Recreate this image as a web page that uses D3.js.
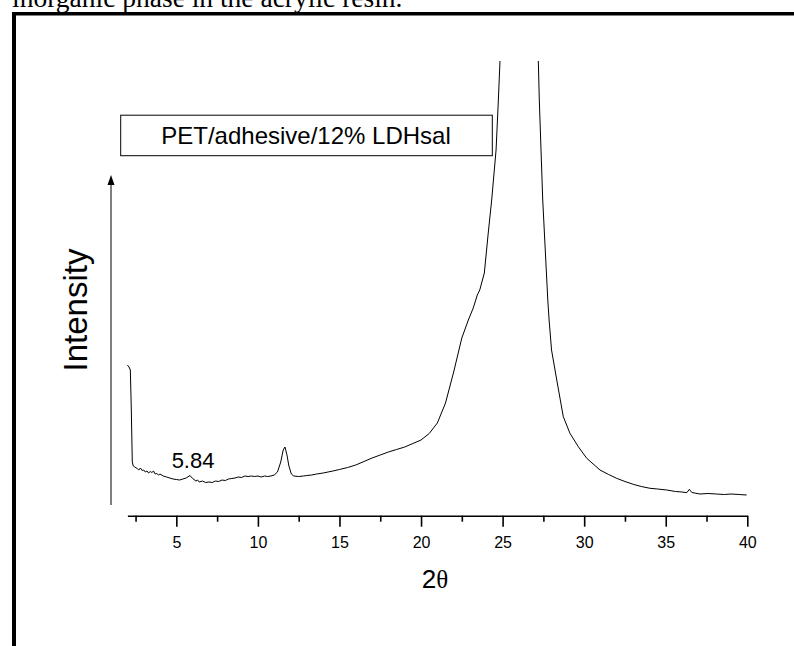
<!DOCTYPE html>
<html>
<head>
<meta charset="utf-8">
<script src="https://cdn.jsdelivr.net/npm/d3@7"></script>
<style>
  html, body { margin: 0; padding: 0; background: #fff; }
  svg { display: block; }
</style>
</head>
<body>
<svg id="chart" width="794" height="646"></svg>
<script>
// ---- data (2θ in degrees, intensity in arbitrary counts) ----
const twoTheta = [
  2.00, 2.10, 2.18, 2.24, 2.30, 2.36, 2.45, 2.6, 2.7, 2.8, 2.9, 3.0, 3.1, 3.2, 3.3, 3.4, 3.5, 3.6, 3.7, 3.8,
  3.9, 4.0, 4.2, 4.4, 4.6, 4.8, 5.0, 5.2, 5.4, 5.6, 5.84, 6.0, 6.2, 6.3, 6.4, 6.6, 6.8, 7.0, 7.2, 7.4,
  7.6, 7.8, 8.0, 8.2, 8.4, 8.6, 8.8, 9.0, 9.2, 9.4, 9.6, 9.8, 10.0, 10.2, 10.4, 10.6, 10.8, 11.0, 11.2, 11.4,
  11.55, 11.66, 11.78, 11.9, 12.05, 12.2, 12.5, 12.8, 13.0, 13.3, 13.6, 14.0, 14.3, 14.6, 15.0, 15.5, 16.0, 16.5, 17.0, 17.5,
  18.0, 18.5, 19.0, 19.5, 20.0, 20.5, 21.0, 21.5, 22.0, 22.5, 22.9, 23.2, 23.45, 23.6, 23.88, 24.12, 24.33, 24.6, 24.74, 24.84,
  25.2, 25.6, 26.0, 26.5, 27.0, 27.19, 27.25, 27.46, 27.77, 27.85, 28.0, 28.32, 28.72, 29.13, 29.64, 30.16, 30.97, 31.5, 31.99, 32.5,
  33.01, 33.5, 34.04, 34.5, 35.06, 35.6, 36.0, 36.29, 36.45, 36.6, 37.1, 37.6, 38.1, 38.6, 39.0, 39.5, 39.96
];
const intensity = [
  1400, 1380, 1350, 950, 430, 390, 380, 365, 350, 370, 345, 350, 330, 340, 320, 335, 325, 340, 310, 315,
  300, 310, 290, 280, 270, 260, 255, 250, 260, 270, 295, 265, 240, 250, 230, 240, 225, 230, 225, 240,
  235, 250, 245, 260, 265, 270, 280, 275, 290, 285, 290, 285, 290, 280, 290, 285, 290, 300, 330, 430,
  550, 580, 500, 390, 310, 290, 285, 290, 295, 300, 310, 320, 330, 340, 355, 375, 400, 435, 470, 500,
  530, 555, 580, 615, 650, 715, 820, 1020, 1330, 1670, 1850, 1970, 2100, 2150, 2320, 2720, 3050, 3550, 4050, 4440,
  6500, 8000, 8500, 7500, 5200, 4440, 4050, 3050, 2050, 1850, 1550, 1250, 883, 717, 583, 467, 350, 305, 267, 235,
  207, 185, 167, 160, 150, 135, 130, 123, 157, 125, 110, 115, 110, 105, 110, 105, 100
];
const majorTicks = [5, 10, 15, 20, 25, 30, 35, 40];
const minorTicks = [2.5, 7.5, 12.5, 17.5, 22.5, 27.5, 32.5, 37.5];
const legendText = "PET/adhesive/12% LDHsal";
const peakLabel = { x: 5.84, text: "5.84" };
const xTitle = "2";
const xTitleGreek = "θ";
const yTitle = "Intensity";
const captionText = "inorganic phase in the acrylic resin.";

// ---- layout ----
const svg = d3.select("#chart");
const x = d3.scaleLinear().domain([2, 40]).range([127.4, 747.3]);
const y = d3.scaleLinear().domain([0, 4440]).range([505, 61]);
const axisY = 515.7;

// page frame + caption fragment
svg.append("text")
  .attr("x", 12).attr("y", 7)
  .attr("font-family", "'Liberation Serif', 'Times New Roman', serif")
  .attr("font-size", 27.5)
  .attr("fill", "#000")
  .text(captionText);
svg.append("rect").attr("x", 12).attr("y", 12).attr("width", 782).attr("height", 3.5).attr("fill", "#000");
svg.append("rect").attr("x", 12).attr("y", 12).attr("width", 4).attr("height", 634).attr("fill", "#000");

// clip for the data curve
svg.append("defs").append("clipPath").attr("id", "plotclip")
  .append("rect").attr("x", x(2) - 2).attr("y", 61).attr("width", x(40) - x(2) + 4).attr("height", 505 - 61);

const data = twoTheta.map((t, i) => ({ t, v: intensity[i] }));
const line = d3.line().x(d => x(d.t)).y(d => y(d.v));
svg.append("path")
  .datum(data)
  .attr("clip-path", "url(#plotclip)")
  .attr("d", line)
  .attr("fill", "none")
  .attr("stroke", "#000")
  .attr("stroke-width", 1)
  .attr("stroke-linejoin", "round");

// x axis (major)
const xAxis = d3.axisBottom(x)
  .tickValues(majorTicks)
  .tickSize(11)
  .tickSizeOuter(0)
  .tickPadding(9.5)
  .tickFormat(d3.format("d"));
const gx = svg.append("g").attr("transform", `translate(0,${axisY})`).call(xAxis);
gx.select(".domain").attr("stroke", "#000").attr("stroke-width", 1.6);
gx.selectAll(".tick line").attr("stroke", "#000").attr("stroke-width", 1.6);
gx.selectAll(".tick text")
  .attr("font-family", "Arial, 'Liberation Sans', sans-serif")
  .attr("font-size", 16)
  .attr("fill", "#000");

// x axis minor ticks
const xMinor = d3.axisBottom(x).tickValues(minorTicks).tickSize(6).tickSizeOuter(0).tickFormat("");
const gxm = svg.append("g").attr("transform", `translate(0,${axisY})`).call(xMinor);
gxm.select(".domain").remove();
gxm.selectAll(".tick line").attr("stroke", "#000").attr("stroke-width", 1.6);

// x title
const xt = svg.append("text")
  .attr("x", x(20.85)).attr("y", 588)
  .attr("text-anchor", "middle")
  .attr("font-family", "Arial, 'Liberation Sans', sans-serif")
  .attr("font-size", 26)
  .attr("fill", "#000");
xt.append("tspan").text(xTitle);
xt.append("tspan").attr("font-family", "'Liberation Serif', serif").attr("font-size", 25).text(xTitleGreek);

// y axis arrow (no ticks)
const yAxisX = 111;
svg.append("line")
  .attr("x1", yAxisX).attr("x2", yAxisX)
  .attr("y1", y(0)).attr("y2", 183)
  .attr("stroke", "#000").attr("stroke-width", 1);
svg.append("path")
  .attr("d", `M${yAxisX},175 L${yAxisX - 3.5},185 L${yAxisX + 3.5},185 Z`)
  .attr("fill", "#000");

// y title
svg.append("text")
  .attr("transform", "translate(87,310) rotate(-90)")
  .attr("text-anchor", "middle")
  .attr("font-family", "Arial, 'Liberation Sans', sans-serif")
  .attr("font-size", 33)
  .attr("fill", "#000")
  .text(yTitle);

// legend box
svg.append("rect")
  .attr("x", 120.7).attr("y", 115.2)
  .attr("width", 371.6).attr("height", 40.5)
  .attr("fill", "#fff").attr("stroke", "#000").attr("stroke-width", 1);
svg.append("text")
  .attr("x", 306).attr("y", 144.3)
  .attr("text-anchor", "middle")
  .attr("font-family", "Arial, 'Liberation Sans', sans-serif")
  .attr("font-size", 24)
  .attr("fill", "#000")
  .text(legendText);

// peak annotation
svg.append("text")
  .attr("x", x(peakLabel.x) + 3).attr("y", 468.3)
  .attr("text-anchor", "middle")
  .attr("font-family", "Arial, 'Liberation Sans', sans-serif")
  .attr("font-size", 22)
  .attr("fill", "#000")
  .text(peakLabel.text);
</script>
</body>
</html>
